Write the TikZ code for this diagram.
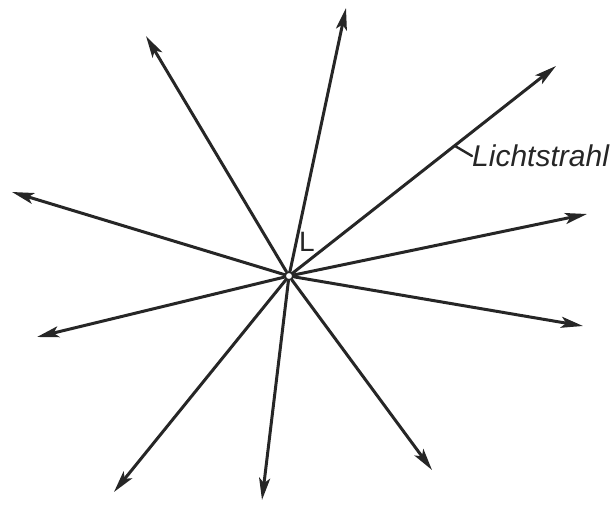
\documentclass[tikz,border=0pt]{standalone}
\usepackage{fontspec}
\setmainfont{Liberation Sans}
\usetikzlibrary{arrows.meta}
\begin{document}
\begin{tikzpicture}[x=1pt,y=-1pt,
  ray/.style={line width=3pt,draw=black!85,line cap=round,-{Stealth[length=22pt,width=11pt,inset=5pt]}},
  src/.style={circle,draw=black!85,line width=1.8pt,fill=white,inner sep=0pt,minimum size=8pt}]
\useasboundingbox (0,0) rectangle (616,510);
\node[src] (c) at (289,276) {};
\coordinate (e1) at (346,8);
\coordinate (e2) at (146,36);
\coordinate (e3) at (556,66);
\coordinate (e4) at (12,192);
\coordinate (e5) at (587,214);
\coordinate (e6) at (583,326);
\coordinate (e7) at (37,337);
\coordinate (e8) at (114,492);
\coordinate (e9) at (262,500);
\coordinate (e10) at (432,470);
\foreach \i in {1,...,10} \draw[ray] (c) -- (e\i);
\node[font=\itshape\fontsize{30}{30}\selectfont,text=black!85,anchor=west,inner sep=0pt] (lab) at (472,156) {Lichtstrahl};
\draw[line width=2.4pt,draw=black!85,line cap=round] (455,146) -- (lab.west);
\node[font=\fontsize{28}{28}\selectfont,text=black!85,inner sep=0pt] (L) at (307,242) {L};
\end{tikzpicture}
\end{document}
